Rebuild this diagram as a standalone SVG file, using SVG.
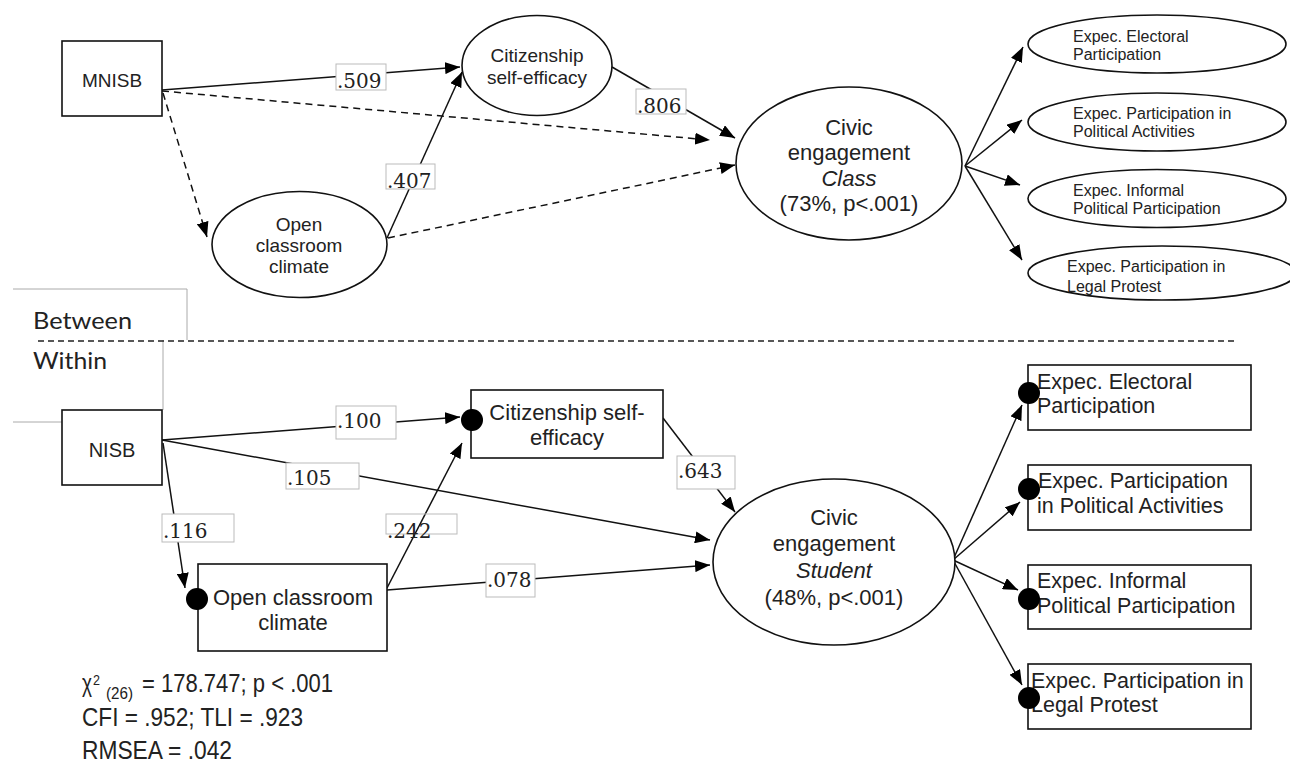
<svg xmlns="http://www.w3.org/2000/svg" width="1290" height="765" viewBox="0 0 1290 765">
<defs>
<marker id="ah" viewBox="0 0 15 12" refX="15" refY="6" markerWidth="15" markerHeight="12" markerUnits="userSpaceOnUse" orient="auto">
<path d="M0,0 L15,6 L0,12 Z" fill="#000"/>
</marker>
<style>
.nd{fill:#fff;stroke:#111;stroke-width:1.6}
.t{font-family:"Liberation Sans",Arial,sans-serif;fill:#222}
.c{text-anchor:middle}
.e{stroke:#111;stroke-width:1.5;fill:none;marker-end:url(#ah)}
.d{stroke-dasharray:7 5}
.lb{fill:#fff;stroke:#bbb;stroke-width:1}
.lt{font-family:"DejaVu Serif",serif;font-size:20px;fill:#222}
.gr{stroke:#aaa;stroke-width:1;fill:none}
.dot{fill:#000}
.cal{font-family:Lato,"Open Sans",sans-serif;font-size:24px;fill:#222}
</style>
</defs>
<rect width="1290" height="765" fill="#fff"/>

<g id="section-lines">
<polyline class="gr" points="13,289 187,289 187,340"/>
<line class="gr" x1="163" y1="340" x2="163" y2="410"/>
<line class="gr" x1="13" y1="422" x2="62" y2="422"/>
<line x1="38" y1="341" x2="1235" y2="341" stroke="#222" stroke-width="1.3" stroke-dasharray="6 4"/>
<text class="cal" x="33" y="329" textLength="99" lengthAdjust="spacingAndGlyphs">Between</text>
<text class="cal" x="33" y="369" textLength="74" lengthAdjust="spacingAndGlyphs">Within</text>
</g>

<g id="connectors">
<path class="e" d="M162,90 L460,67"/>
<path class="e d" d="M162,91 L710,140"/>
<path class="e d" d="M163,93 L207,237"/>
<path class="e" d="M387,238 L462,72"/>
<path class="e d" d="M388,238 L735,165"/>
<path class="e" d="M612,67 L735,138"/>
<path class="e" d="M965,166 L1023,47"/>
<path class="e" d="M965,166 L1022,120"/>
<path class="e" d="M965,166 L1020,185"/>
<path class="e" d="M965,166 L1022,260"/>
<path class="e" d="M162,440 L460,417"/>
<path class="e" d="M162,440 L710,540"/>
<path class="e" d="M163,443 L185,588"/>
<path class="e" d="M387,588 L462,443"/>
<path class="e" d="M387,590 L710,565"/>
<path class="e" d="M663,418 L735,512"/>
<path class="e" d="M953,560 L1022,405"/>
<path class="e" d="M953,560 L1020,502"/>
<path class="e" d="M953,560 L1018,590"/>
<path class="e" d="M953,560 L1022,685"/>
</g>

<g id="labels">
<rect class="lb" x="336" y="64" width="50" height="26"/><text class="lt" x="337" y="88">.509</text>
<rect class="lb" x="386" y="164" width="49" height="25"/><text class="lt" x="387" y="188">.407</text>
<rect class="lb" x="636" y="89" width="50" height="25"/><text class="lt" x="637" y="113">.806</text>
<rect class="lb" x="336" y="406" width="60" height="33"/><text class="lt" x="337" y="428">.100</text>
<rect class="lb" x="286" y="463" width="73" height="26"/><text class="lt" x="287" y="485">.105</text>
<rect class="lb" x="162" y="514" width="72" height="28"/><text class="lt" x="163" y="538">.116</text>
<rect class="lb" x="386" y="514" width="71" height="20" style="fill:none"/><text class="lt" x="387" y="538">.242</text>
<rect class="lb" x="677" y="456" width="58" height="33"/><text class="lt" x="678" y="478">.643</text>
<rect class="lb" x="486" y="564" width="49" height="33"/><text class="lt" x="487" y="587">.078</text>
</g>

<g id="MNISB">
<rect class="nd" x="62" y="41" width="100" height="75"/>
<text class="t c" x="112" y="87" font-size="19">MNISB</text>
</g>
<g id="citizenship-class">
<ellipse class="nd" cx="537" cy="65.5" rx="75" ry="50"/>
<text class="t c" x="537" y="62" font-size="19">Citizenship</text>
<text class="t c" x="537" y="84" font-size="19">self-efficacy</text>
</g>
<g id="open-classroom-class">
<ellipse class="nd" cx="299.5" cy="244.5" rx="87.5" ry="53"/>
<text class="t c" x="299" y="231" font-size="19">Open</text>
<text class="t c" x="299" y="252" font-size="19">classroom</text>
<text class="t c" x="299" y="273" font-size="19">climate</text>
</g>
<g id="civic-class">
<ellipse class="nd" cx="849" cy="163.5" rx="113" ry="76.5"/>
<text class="t c" x="849" y="135" font-size="22">Civic</text>
<text class="t c" x="849" y="160" font-size="22">engagement</text>
<text class="t c" x="849" y="186" font-size="22" font-style="italic">Class</text>
<text class="t c" x="849" y="211" font-size="22">(73%, p&lt;.001)</text>
</g>
<g id="class-ind-1">
<ellipse class="nd" cx="1157" cy="44" rx="129" ry="29"/>
<text class="t" x="1073" y="42" font-size="16">Expec. Electoral</text>
<text class="t" x="1073" y="60" font-size="16">Participation</text>
</g>
<g id="class-ind-2">
<ellipse class="nd" cx="1157" cy="122" rx="129" ry="29"/>
<text class="t" x="1073" y="119" font-size="16">Expec. Participation in</text>
<text class="t" x="1073" y="137" font-size="16">Political Activities</text>
</g>
<g id="class-ind-3">
<ellipse class="nd" cx="1157" cy="198.5" rx="129" ry="29"/>
<text class="t" x="1073" y="196" font-size="16">Expec. Informal</text>
<text class="t" x="1073" y="214" font-size="16">Political Participation</text>
</g>
<g id="class-ind-4">
<ellipse class="nd" cx="1162" cy="273" rx="134" ry="27"/>
<text class="t" x="1067" y="272" font-size="16">Expec. Participation in</text>
<text class="t" x="1067" y="292" font-size="16">Legal Protest</text>
</g>

<g id="NISB">
<rect class="nd" x="62" y="410" width="100" height="75"/>
<text class="t c" x="112" y="457" font-size="20">NISB</text>
</g>
<g id="citizenship-student">
<rect class="nd" x="471" y="390" width="192" height="68"/>
<circle class="dot" cx="472" cy="420" r="11"/>
<text class="t c" x="567" y="420" font-size="22">Citizenship self-</text>
<text class="t c" x="567" y="445" font-size="22">efficacy</text>
</g>
<g id="open-classroom-student">
<rect class="nd" x="198" y="564" width="189" height="87"/>
<circle class="dot" cx="197" cy="599" r="11"/>
<text class="t c" x="293" y="605" font-size="22">Open classroom</text>
<text class="t c" x="293" y="630" font-size="22">climate</text>
</g>
<g id="civic-student">
<ellipse class="nd" cx="834" cy="562" rx="121" ry="83"/>
<text class="t c" x="834" y="525" font-size="22">Civic</text>
<text class="t c" x="834" y="551" font-size="22">engagement</text>
<text class="t c" x="834" y="578" font-size="22" font-style="italic">Student</text>
<text class="t c" x="834" y="605" font-size="22">(48%, p&lt;.001)</text>
</g>
<g id="student-ind-1">
<rect class="nd" x="1028" y="365" width="223" height="65"/>
<text class="t" x="1037" y="389" font-size="21.5">Expec. Electoral</text>
<text class="t" x="1037" y="413" font-size="21.5">Participation</text>
<circle class="dot" cx="1029" cy="393" r="11"/>
</g>
<g id="student-ind-2">
<rect class="nd" x="1028" y="465" width="223" height="65"/>
<text class="t" x="1038" y="488" font-size="21.5">Expec. Participation</text>
<text class="t" x="1037" y="513" font-size="21.5">in Political Activities</text>
<circle class="dot" cx="1029" cy="489" r="11"/>
</g>
<g id="student-ind-3">
<rect class="nd" x="1028" y="565" width="223" height="64"/>
<text class="t" x="1037" y="588" font-size="21.5">Expec. Informal</text>
<text class="t" x="1037" y="613" font-size="21.5">Political Participation</text>
<circle class="dot" cx="1029" cy="599" r="11"/>
</g>
<g id="student-ind-4">
<rect class="nd" x="1028" y="664" width="223" height="65"/>
<text class="t" x="1031" y="688" font-size="21.5">Expec. Participation in</text>
<text class="t" x="1031" y="712" font-size="21.5">Legal Protest</text>
<circle class="dot" cx="1029" cy="698" r="11"/>
</g>

<g id="fit-stats">
<text class="t" x="82" y="692" font-size="26" textLength="10" lengthAdjust="spacingAndGlyphs">χ</text>
<text class="t" x="93" y="685" font-size="15" textLength="7" lengthAdjust="spacingAndGlyphs">2</text>
<text class="t" x="106" y="699" font-size="16" textLength="27" lengthAdjust="spacingAndGlyphs">(26)</text>
<text class="t" x="142" y="692" font-size="26" textLength="191" lengthAdjust="spacingAndGlyphs">= 178.747; p &lt; .001</text>
<text class="t" x="82" y="726" font-size="26" textLength="221" lengthAdjust="spacingAndGlyphs">CFI = .952; TLI = .923</text>
<text class="t" x="82" y="759" font-size="25" textLength="150" lengthAdjust="spacingAndGlyphs">RMSEA = .042</text>
</g>
</svg>
